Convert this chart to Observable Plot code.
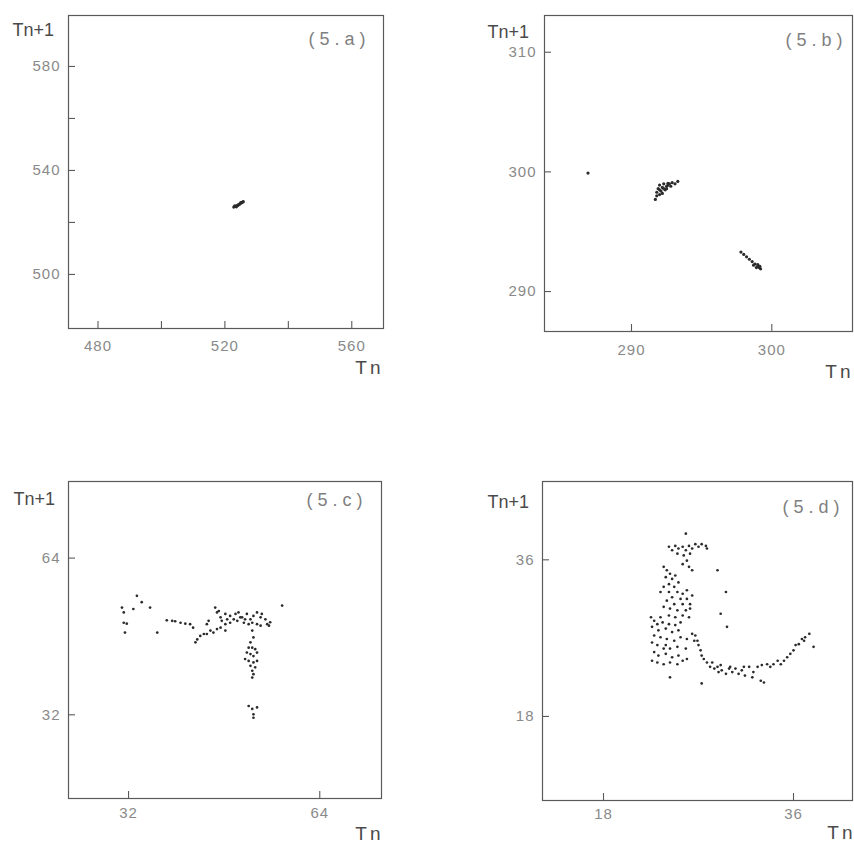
<!DOCTYPE html>
<html>
<head>
<meta charset="utf-8">
<script src="https://cdn.jsdelivr.net/npm/d3@7"></script>
<script src="https://cdn.jsdelivr.net/npm/@observablehq/plot@0.6"></script>
<style>
  html, body { margin: 0; padding: 0; background: #fff; }
  #wrap { position: relative; width: 854px; height: 851px; overflow: hidden; background: #fff; }
  #wrap svg { position: absolute; overflow: visible; }
</style>
</head>
<body>
<div id="wrap"></div>
<script>
// ---------- DATA ----------
// Panel 5.a
const aX = [522.8, 523.3, 523.8, 524.3, 524.8, 525.3, 525.8, 524.0, 524.6, 523.6, 525.0, 525.5, 524.2, 523.1];
const aY = [525.9, 526.2, 526.5, 526.9, 527.2, 527.6, 528.0, 526.5, 527.0, 526.0, 527.6, 527.8, 526.7, 526.4];
const aXTicks = [480, 500, 520, 540, 560];
const aXLabels = [480, 520, 560];
const aYTicks = [500, 520, 540, 560, 580];
const aYLabels = [500, 540, 580];

// Panel 5.b
const bX = [286.9,
  292.0, 292.3, 292.6, 292.9, 293.3, 291.9, 292.2, 292.5, 292.8, 291.8, 292.1, 292.4, 291.8, 292.0, 291.7, 292.7, 293.1,
  292.3, 292.6, 292.2, 292.0, 292.5,
  297.8, 298.0, 298.2, 298.4, 298.6, 298.8, 299.0, 299.1, 299.2, 298.9, 299.0, 298.7, 299.15];
const bY = [299.9,
  298.9, 299.0, 299.05, 299.1, 299.2, 298.6, 298.7, 298.8, 298.8, 298.3, 298.4, 298.5, 298.0, 298.1, 297.7, 299.0, 299.0,
  298.6, 298.9, 298.2, 298.5, 298.6,
  293.3, 293.1, 292.9, 292.7, 292.5, 292.3, 292.1, 292.0, 291.9, 292.0, 292.25, 292.2, 292.1];
const bXTicks = [290, 300];
const bXLabels = [290, 300];
const bYTicks = [290, 300, 310];
const bYLabels = [290, 300, 310];

// Panel 5.c
const cX = [30.9, 31.2, 31.2, 31.7, 31.4, 34.2, 33.4, 32.8, 35.6, 36.8,
  38.4, 39.3, 39.8, 40.7, 41.5, 42.3, 42.8,
  43.2, 43.5, 44.0, 44.6, 45.1, 45.7, 46.2, 45.1, 45.4, 46.8, 47.4, 48.2,
  46.5, 46.8, 47.4, 48.2, 49.0, 49.9, 50.4, 51.0, 51.8, 52.4, 52.9, 53.5, 54.3, 54.9, 55.2, 55.7, 55.5, 57.7,
  54.1, 53.5, 52.7, 52.1, 51.3, 50.2, 49.0, 48.2, 47.6, 48.5, 49.6, 50.7, 51.5, 54.1, 47.1,
  52.7, 52.9, 52.4, 52.7, 51.8, 52.4, 52.9, 53.5, 51.5, 52.1, 52.9, 53.5, 52.4, 53.2, 52.7, 52.9, 52.7, 52.1, 53.2,
  52.1, 52.7, 53.5, 52.9, 52.9];
const cY = [53.9, 52.9, 50.8, 50.6, 48.8, 55.0, 56.3, 53.6, 53.9, 48.8,
  51.3, 51.2, 51.1, 50.8, 50.6, 50.5, 49.8,
  46.8, 47.4, 48.1, 48.5, 48.5, 49.2, 48.8, 50.5, 51.2, 49.5, 49.8, 49.2,
  53.9, 52.9, 51.9, 52.6, 52.2, 52.6, 52.9, 51.9, 52.6, 51.5, 52.2, 52.9, 52.6, 51.5, 50.5, 50.9, 50.2, 54.3,
  50.2, 50.5, 50.8, 50.5, 50.8, 51.2, 50.8, 50.5, 51.2, 51.5, 51.5, 51.9, 51.5, 51.9, 53.2,
  49.2, 47.8, 46.8, 45.7, 44.7, 44.4, 44.0, 44.7, 43.4, 43.0, 42.7, 43.0, 42.0, 41.7, 41.0, 40.3, 39.6, 45.7, 45.4,
  33.8, 33.2, 33.5, 31.4, 32.1];
const cXTicks = [32, 64];
const cXLabels = [32, 64];
const cYTicks = [32, 64];
const cYLabels = [32, 64];

// Panel 5.d
const dX = [24.2, 24.5, 24.8, 25.1, 25.5, 25.8, 26.1, 26.4, 26.7, 27.0, 27.3, 27.7, 27.8, 25.0, 25.6, 26.2, 25.9, 25.5, 26.1, 26.4,
  23.7, 24.0, 24.3, 23.9, 24.5, 24.8, 24.2, 24.7, 25.1, 23.7, 23.4, 24.2, 25.0, 25.5, 25.9, 24.5, 25.3, 25.9, 26.4,
  24.0, 24.7, 25.5, 26.2, 23.7, 24.3, 25.0, 25.8, 26.2, 24.2, 24.8, 25.5, 26.1, 23.4,
  22.5, 22.8, 23.1, 23.6, 24.2, 24.8, 25.3, 22.6, 23.2, 23.9, 24.5, 25.1, 22.8, 23.4, 24.0, 23.9, 24.7, 25.3, 25.9,
  22.6, 23.1, 23.7, 24.3, 25.0, 25.8, 22.8, 23.2, 23.9, 24.5, 25.1, 22.6, 23.1, 23.7, 24.3, 25.0, 25.5, 25.9,
  25.8, 28.8, 29.6, 29.7, 29.1, 24.3, 27.3,
  26.4, 26.7, 26.6, 26.9, 27.0, 27.2, 27.3, 27.5,
  27.8, 28.1, 28.5, 28.8, 28.9, 29.2, 29.6, 29.9, 30.2, 30.5, 30.8, 31.1, 31.4, 31.8, 32.1, 32.6, 32.9, 33.2, 33.0,
  33.5, 33.8, 34.1, 34.5, 34.8, 35.1, 35.4, 35.7, 36.0, 36.2, 36.5, 36.8, 37.1, 37.5, 37.9,
  28.3, 29.1, 30.0, 31.3, 32.2, 37.0];
const dY = [37.5, 37.1, 37.6, 37.3, 37.5, 37.1, 37.6, 37.3, 37.8, 37.5, 37.8, 37.6, 37.3, 36.7, 36.5, 36.7, 35.9, 35.5, 35.2, 34.8,
  35.2, 34.8, 34.4, 34.0, 33.8, 34.2, 33.2, 32.9, 33.4, 32.9, 32.3, 32.3, 32.3, 32.1, 32.5, 31.7, 31.5, 31.5, 31.9,
  31.3, 30.9, 30.9, 30.9, 30.6, 30.4, 30.2, 30.2, 30.4, 29.6, 29.4, 29.6, 29.4, 29.4,
  29.4, 29.0, 28.6, 28.8, 28.6, 28.5, 28.8, 28.3, 27.9, 28.1, 27.7, 27.9, 27.3, 27.1, 26.9, 26.2, 26.7, 27.1, 26.9,
  26.5, 26.2, 25.8, 25.8, 26.0, 25.8, 25.4, 25.0, 25.2, 24.8, 25.0, 24.4, 24.2, 24.0, 24.2, 24.0, 24.4, 24.6,
  39.0, 34.8, 32.3, 28.3, 29.8, 22.5, 21.8,
  27.5, 27.3, 26.7, 26.7, 26.2, 25.6, 25.0, 24.6,
  24.2, 23.7, 23.5, 23.7, 23.1, 23.3, 22.9, 23.5, 23.1, 23.5, 22.9, 23.3, 22.7, 23.7, 22.5, 23.7, 22.1, 21.9, 23.9,
  24.0, 23.7, 24.0, 24.4, 24.0, 24.4, 24.8, 25.2, 25.6, 26.2, 26.3, 26.9, 27.1, 27.5, 26.0,
  24.2, 23.9, 23.7, 23.7, 23.1, 26.7];
const dXTicks = [18, 36];
const dXLabels = [18, 36];
const dYTicks = [18, 36];
const dYLabels = [18, 36];

const titles = ["(5.a)", "(5.b)", "(5.c)", "(5.d)"];
const yName = "Tn+1";
const xName = "Tn";

// ---------- LAYOUT ----------
const FONT = "'Liberation Sans', Arial, sans-serif";
const panels = [
  {title: titles[0], xs: aX, ys: aY, xt: aXTicks, xl: aXLabels, yt: aYTicks, yl: aYLabels,
   left: 0, top: 0, w: 427, h: 420, mL: 68, mT: 15, mR: 44, mB: 92,
   xd: [470.7, 570], yd: [479.2, 599.6], r: 1.6,
   xlDy: 22, tnDy: 45, tnDx: 0, yNameDx: -56, yNameDy: 8, tDx: -13, tDy: 17},
  {title: titles[1], xs: bX, ys: bY, xt: bXTicks, xl: bXLabels, yt: bYTicks, yl: bYLabels,
   left: 427, top: 0, w: 427, h: 420, mL: 117, mT: 15, mR: 2, mB: 89,
   xd: [283.8, 305.75], yd: [286.66, 313.07], r: 1.6,
   xlDy: 23, tnDy: 46, tnDx: 1, yNameDx: -57, yNameDy: 10, tDx: -5, tDy: 18},
  {title: titles[2], xs: cX, ys: cY, xt: cXTicks, xl: cXLabels, yt: cYTicks, yl: cYLabels,
   left: 0, top: 420, w: 427, h: 431, mL: 68, mT: 61, mR: 46, mB: 53,
   xd: [21.95, 74.33], yd: [14.91, 79.64], r: 1.35,
   xlDy: 19, tnDy: 41, tnDx: 2, yNameDx: -55, yNameDy: 11, tDx: -14, tDy: 12},
  {title: titles[3], xs: dX, ys: dY, xt: dXTicks, xl: dXLabels, yt: dYTicks, yl: dYLabels,
   left: 427, top: 420, w: 427, h: 431, mL: 115, mT: 61, mR: 2, mB: 51,
   xd: [12.22, 41.59], yd: [8.34, 45.0], r: 1.35,
   xlDy: 18, tnDy: 38, tnDx: 3, yNameDx: -55, yNameDy: 14, tDx: -8, tDy: 19}
];

const wrap = document.getElementById("wrap");
for (const p of panels) {
  const pts = p.xs.map((x, i) => ({x, y: p.ys[i]}));
  const fw = p.w - p.mL - p.mR;
  const fh = p.h - p.mT - p.mB;
  const svg = Plot.plot({
    width: p.w, height: p.h,
    marginLeft: p.mL, marginRight: p.mR, marginTop: p.mT, marginBottom: p.mB,
    x: {domain: p.xd, axis: null},
    y: {domain: p.yd, axis: null},
    style: {fontFamily: FONT, background: "transparent", overflow: "visible"},
    marks: [
      Plot.frame({stroke: "#5a5a5a", strokeWidth: 1.2}),
      Plot.tickX(p.xt, {x: d => d, insetTop: fh - 7, stroke: "#5a5a5a", strokeWidth: 1.1}),
      Plot.tickY(p.yt, {y: d => d, insetRight: fw - 7, stroke: "#5a5a5a", strokeWidth: 1.1}),
      Plot.text(p.xl, {x: d => d, text: d => String(d), frameAnchor: "bottom", dy: p.xlDy,
        fill: "#8a8a8a", fontSize: 15}),
      Plot.text(p.yl, {y: d => d, text: d => String(d), frameAnchor: "left", dx: -8, textAnchor: "end",
        fill: "#8a8a8a", fontSize: 15}),
      Plot.dot(pts, {x: "x", y: "y", r: p.r, fill: "#2b2b2b", stroke: "none"}),
      Plot.text([p.title], {text: d => d, frameAnchor: "top-right", dx: p.tDx, dy: p.tDy, textAnchor: "end",
        fill: "#7f7f7f", fontSize: 18}),
      Plot.text([yName], {text: d => d, frameAnchor: "top-left", dx: p.yNameDx, dy: p.yNameDy, textAnchor: "start",
        fill: "#4a4a4a", fontSize: 18}),
      Plot.text([xName], {text: d => d, frameAnchor: "bottom-right", dx: p.tnDx, dy: p.tnDy, textAnchor: "end",
        fill: "#4a4a4a", fontSize: 19})
    ]
  });
  const s = d3.select(svg);
  s.selectAll("text").each(function() {
    const t = this.textContent;
    if (t === p.title) this.setAttribute("letter-spacing", "5");
    else if (t === xName) this.setAttribute("letter-spacing", "3");
    else if (/^\d+$/.test(t)) this.setAttribute("letter-spacing", "1");
  });
  svg.style.left = p.left + "px";
  svg.style.top = p.top + "px";
  wrap.appendChild(svg);
}
</script>
</body>
</html>
